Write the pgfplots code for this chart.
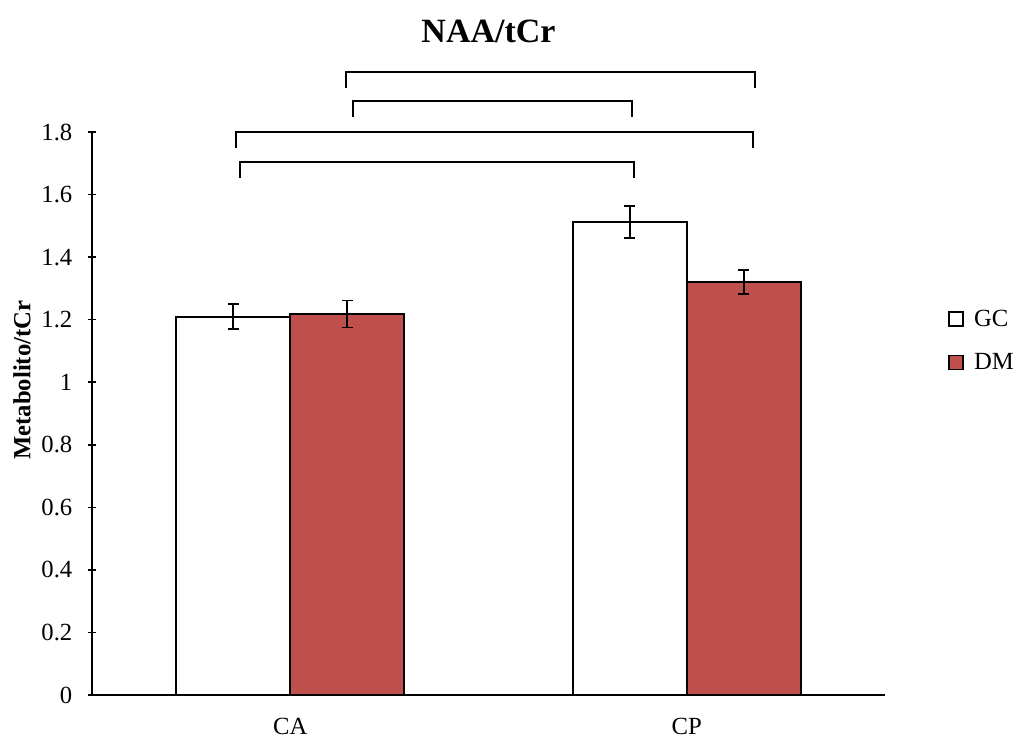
\documentclass[border=0pt]{standalone}
\usepackage{fontspec}
\setmainfont{Liberation Serif}
\usepackage{pgfplots}
\pgfplotsset{compat=1.18}
\definecolor{dmred}{HTML}{C0504D}
\begin{document}
\begin{tikzpicture}
\begin{axis}[
  scale only axis,
  width=594.75pt, height=422.25pt,
  ymin=0, ymax=1.8,
  ytick={0,0.2,...,1.8},
  xmin=-0.5, xmax=1.5,
  xtick={0,1}, xticklabels={CA,CP},
  x tick style={draw=none},
  y tick style={line width=1.2pt, black},
  tick align=outside,
  major tick length=5.5pt,
  axis x line=bottom, axis y line=left,
  axis line style={line width=1.5pt, -},
  ybar=0pt, bar width=85.5pt,
  clip=false,
  /pgf/number format/assume math mode=true,
  yticklabel style={/pgf/number format/fixed, font=\fontsize{18.5}{21}\selectfont, xshift=-8.5pt},
  xticklabel style={font=\fontsize{18.5}{21}\selectfont, yshift=-8pt},
  ylabel={\textbf{Metabolito/tCr}},
  ylabel style={at={(axis description cs:0,0.5)}, anchor=center, xshift=25pt, yshift=52.5pt, font=\fontsize{18.5}{21}\selectfont},
  title={\textbf{NAA/tCr}},
  title style={font=\fontsize{25.5}{30}\selectfont, yshift=57pt},
  legend style={at={(rel axis cs:1.079,0.629)}, anchor=west, draw=none, fill=none,
    font=\fontsize{18.5}{21}\selectfont, row sep=15pt, inner sep=0pt,
    /tikz/every odd column/.append style={column sep=6pt}},
  legend cell align=left,
  legend image code/.code={\draw[line width=1.2pt,#1] (0pt,-5pt) rectangle (10.5pt,5.5pt);},
  error bars/error bar style={line width=1.3pt, black},
  error bars/error mark options={line width=1.3pt, black, rotate=90, mark size=4pt},
]
\addplot[draw=black, line width=1.5pt, fill=white,
  error bars/.cd, y dir=both, y explicit]
  coordinates {(0,1.21) +- (0,0.04) (1,1.512) +- (0,0.052)};
\addplot[draw=black, line width=1.5pt, fill=dmred,
  error bars/.cd, y dir=both, y explicit]
  coordinates {(0,1.218) +- (0,0.043) (1,1.32) +- (0,0.039)};
\legend{GC,DM}
\draw[line width=1.5pt] (axis cs:-0.128,1.653) -- (axis cs:-0.128,1.704) -- (axis cs:0.867,1.704) -- (axis cs:0.867,1.653);
\draw[line width=1.5pt] (axis cs:-0.138,1.749) -- (axis cs:-0.138,1.800) -- (axis cs:1.168,1.800) -- (axis cs:1.168,1.749);
\draw[line width=1.5pt] (axis cs:0.158,1.848) -- (axis cs:0.158,1.899) -- (axis cs:0.862,1.899) -- (axis cs:0.862,1.848);
\draw[line width=1.5pt] (axis cs:0.141,1.941) -- (axis cs:0.141,1.992) -- (axis cs:1.173,1.992) -- (axis cs:1.173,1.941);
\end{axis}
\pgfresetboundingbox
\path ([shift={(-69pt,-36pt)}]current axis.south west) rectangle ([shift={(698.25pt,521.25pt)}]current axis.south west);
\end{tikzpicture}
\end{document}
